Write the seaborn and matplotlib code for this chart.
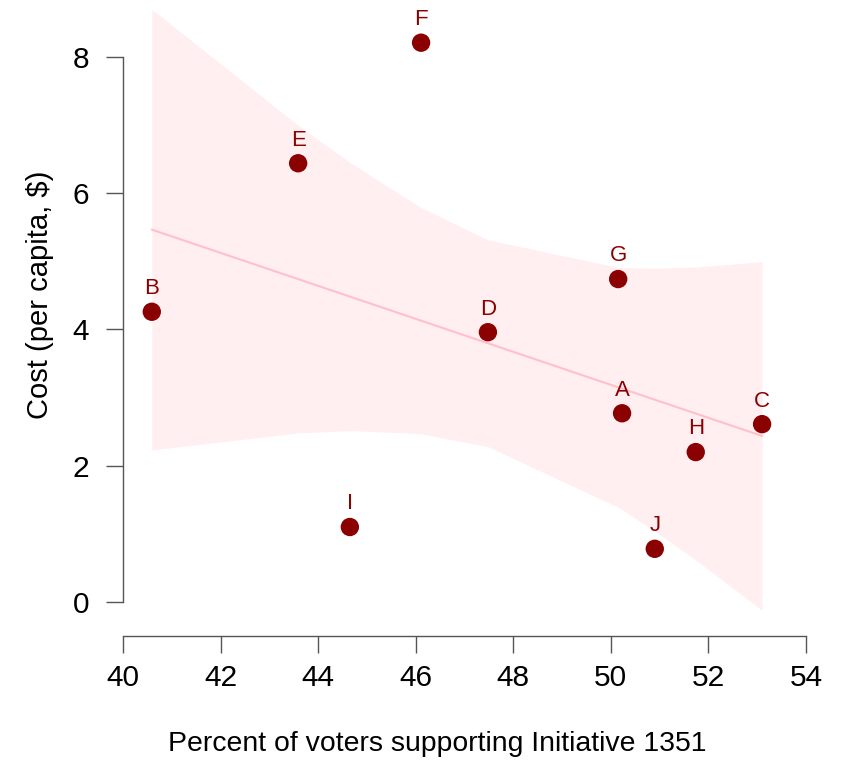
import matplotlib
matplotlib.use("Agg")
import matplotlib.pyplot as plt
import seaborn as sns
import numpy as np
import pandas as pd

# Jurisdictions and their values
labels = ["A", "B", "C", "D", "E", "F", "G", "H", "I", "J"]
support_pct = [50.23, 40.59, 53.10, 47.48, 43.59, 46.11, 50.15, 51.74, 44.65, 50.90]
cost_per_capita = [2.77, 4.26, 2.61, 3.96, 6.44, 8.21, 4.74, 2.20, 1.10, 0.78]

x_ticks = [40, 42, 44, 46, 48, 50, 52, 54]
y_ticks = [0, 2, 4, 6, 8]

# Critical value used for the confidence band around the fitted line
band_crit = 2.13

df = pd.DataFrame({"label": labels, "support": support_pct, "cost": cost_per_capita})

sns.set_style("white")
plt.rcParams["font.family"] = ["Liberation Sans", "DejaVu Sans"]

W, H = 841, 760
fig = plt.figure(figsize=(W / 100, H / 100), dpi=100)
left, right, bottom, top = 123, 806, 636, 10
ax = fig.add_axes([left / W, 1 - bottom / H, (right - left) / W, (bottom - top) / H])

# Least-squares fit and its analytic confidence band, evaluated at the observed x
x = np.asarray(support_pct)
y = np.asarray(cost_per_capita)
n = len(x)
slope, intercept = np.polyfit(x, y, 1)
resid = y - (intercept + slope * x)
s = np.sqrt(np.sum(resid ** 2) / (n - 2))
xs = np.sort(x)
fit = intercept + slope * xs
se = s * np.sqrt(1 / n + (xs - x.mean()) ** 2 / np.sum((x - x.mean()) ** 2))
ax.fill_between(xs, fit - band_crit * se, fit + band_crit * se,
                color="pink", alpha=0.25, lw=0, clip_on=False, zorder=1)

sns.regplot(data=df, x="support", y="cost", ax=ax, scatter=False, ci=None,
            color="pink", line_kws={"color": "pink", "lw": 1.5, "zorder": 2})

# Points with letter labels
sns.scatterplot(data=df, x="support", y="cost", ax=ax, color="darkred", s=175,
                edgecolor="none", zorder=5, clip_on=False)
for lab, xv, yv in zip(labels, support_pct, cost_per_capita):
    ax.annotate(lab, (xv, yv), xytext=(0, 12.7), textcoords="offset points",
                ha="center", va="baseline", fontsize=16, color="darkred",
                annotation_clip=False)

ax.set_xlim(40, 54)
ax.set_ylim(-0.5, (602 - top) / 68.125)
ax.set_xticks(x_ticks)
ax.set_yticks(y_ticks)
ax.set_xticklabels([str(t) for t in x_ticks])
ax.set_yticklabels([str(t) for t in y_ticks])

for side in ["top", "right"]:
    ax.spines[side].set_visible(False)
ax.spines["left"].set_bounds(0, 8)
ax.spines["bottom"].set_bounds(40, 54)
for side in ["left", "bottom"]:
    ax.spines[side].set_color("#555555")
    ax.spines[side].set_linewidth(1.0)
ax.tick_params(axis="both", which="major", direction="out", length=12.5, width=1.0,
               color="#555555", labelsize=21.5, labelcolor="black",
               left=True, bottom=True)
ax.tick_params(axis="x", pad=8)
ax.tick_params(axis="y", pad=12)

ax.set_xlabel("Percent of voters supporting Initiative 1351", fontsize=20.4, color="black")
ax.set_ylabel("Cost (per capita, $)", fontsize=21, color="black")
ax.xaxis.label.set_va("baseline")
ax.xaxis.set_label_coords(0.4605, (bottom - 751) / (bottom - top))
ax.yaxis.label.set_va("center")
ax.yaxis.set_label_coords((40 - left) / (right - left), (bottom - 295) / (bottom - top))

fig.savefig("out.png", dpi=100)
